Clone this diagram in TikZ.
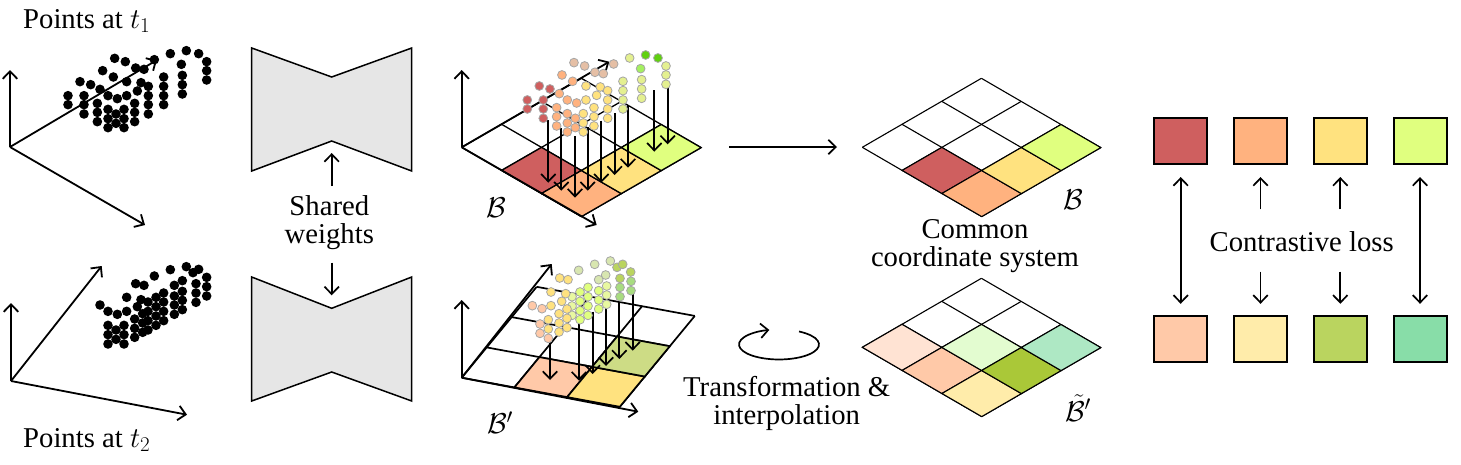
\RequirePackage{fix-cm}
\documentclass[tikz,border=0pt]{standalone}
\usepackage{fontspec}
\setmainfont{Liberation Serif}
\usetikzlibrary{arrows.meta}
\DeclareMathSizes{28.7}{28.7}{21}{15}
\definecolor{cRed}{HTML}{CF5F5F}
\definecolor{cOrange}{HTML}{FFB27F}
\definecolor{cYellow}{HTML}{FFE27F}
\definecolor{cLime}{HTML}{E0FF7F}
\definecolor{cPeach}{HTML}{FFC9A8}
\definecolor{cPale}{HTML}{FFECAA}
\definecolor{cOlive}{HTML}{BAD45F}
\definecolor{cOliveL}{HTML}{CDDC85}
\definecolor{cOliveD}{HTML}{AAC838}
\definecolor{cTeal}{HTML}{88DDA8}
\definecolor{cTealL}{HTML}{AEE8C4}
\definecolor{cPeachL}{HTML}{FFE3D3}
\definecolor{cMint}{HTML}{E3FCD0}
\definecolor{cTan}{HTML}{E5BFA5}
\definecolor{cGreen}{HTML}{60D010}
\definecolor{cGreenM}{HTML}{A4F060}
\definecolor{cYG}{HTML}{E4F090}
\definecolor{cSage}{HTML}{D8E6B0}
\definecolor{cOGreen}{HTML}{A8DC80}
\definecolor{cLimeL}{HTML}{E8F8A0}
\definecolor{cBox}{HTML}{E6E6E6}
\newcommand{\pts}[2]{\foreach \p in {#2} \filldraw[blob,fill=#1] \p circle[radius=4.4pt];}
\newcommand{\kpts}[1]{\foreach \p in {#1} \fill[black] \p circle[radius=4.8pt];}
\newcommand{\gcell}[3]{\filldraw[fill=#3] (#1,#2)--(#1+1,#2)--(#1+1,#2+1)--(#1,#2+1)--cycle;}
\newcommand{\glines}{\foreach \k in {0,1,2,3} {\draw (\k,0)--(\k,3); \draw (0,\k)--(3,\k);}}
\tikzset{
  >={Straight Barb[length=7.5pt,width=14.5pt]},
  arr/.style={->,line width=1.7pt},
  biarr/.style={<->,line width=1.7pt},
  axis/.style={->,line width=1.8pt},
  blob/.style={draw=black!35,line width=0.8pt},
  txt/.style={font=\fontsize{28.7}{28.8}\selectfont,inner sep=0pt,align=center,text=black},
  square/.style={draw=black,line width=2pt,minimum width=53pt,minimum height=46pt,inner sep=0pt,outer sep=0pt},
  bow/.style={draw=black,line width=1.5pt,fill=cBox,line join=miter},
  zoomed/.style={x=0.33333pt,y=-0.33333pt}
}
\begin{document}
\begin{tikzpicture}[x=1pt,y=-1pt]
\useasboundingbox (0,0) rectangle (1461,464);
% ---- left axes
\coordinate (o1) at (10,147);
\coordinate (o1u) at (10,70);
\coordinate (o1r) at (157,60);
\coordinate (o1d) at (145,225);
\draw[axis] (o1)--(o1u);
\draw[axis] (o1)--(o1r);
\draw[axis] (o1)--(o1d);
\coordinate (o2) at (11,381);
\coordinate (o2u) at (11,303);
\coordinate (o2r) at (101.7,266);
\coordinate (o2d) at (187,414.7);
\draw[axis] (o2)--(o2u);
\draw[axis] (o2)--(o2r);
\draw[axis] (o2)--(o2d);
\begin{scope}[zoomed]
\kpts{(344,175),(376,185),(407,204),(432,208),(463,179),(511,161),(559,152),(596,161),(620,185),(620,212),(620,240),(544,193),(547,226),(547,254),(547,282),(491,231),(491,259),(491,287),(491,314),(308,212),(340,231),(380,245),(423,248),(445,259),(412,273),(445,287),(445,314),(445,342),(240,245),(272,254),(300,268),(324,287),(352,296),(380,287),(404,310),(404,337),(404,365),(204,287),(204,314),(252,287),(252,314),(252,342),(292,310),(292,337),(292,365),(324,328),(324,356),(324,383),(348,342),(348,370),(372,328),(372,356),(372,383)}
\end{scope}
\begin{scope}[shift={(0,232)},zoomed]
\kpts{(559,104),(596,112),(579,122),(620,136),(620,164),(620,192),(588,155),(588,183),(588,211),(547,146),(523,160),(547,178),(547,205),(547,233),(523,192),(523,219),(523,247),(511,113),(463,132),(407,155),(432,160),(491,183),(491,210),(491,238),(491,266),(468,196),(468,224),(468,252),(468,280),(444,210),(444,238),(444,266),(444,294),(428,245),(428,273),(428,301),(380,196),(423,203),(412,224),(404,261),(404,289),(404,316),(300,219),(324,238),(352,247),(380,238),(324,280),(324,308),(324,336),(348,294),(348,322),(372,280),(372,308),(372,336)}
\end{scope}
\node[txt,anchor=base west] (t1) at (23,28.3) {Points at $t_1$};
\node[txt,anchor=base west] (t2) at (23,447) {Points at $t_2$};
% ---- encoders
\coordinate (bt) at (331.7,141);
\coordinate (bb) at (331.7,308.3);
\draw[bow] (251.7,48)--(331.7,77)--(411.7,48)--(411.7,171)--(bt)--(251.7,171)--cycle;
\draw[bow] (251.7,277)--(bb)--(411.7,277)--(411.7,401)--(331.7,372)--(251.7,401)--cycle;
\node[txt] (sw) at (329.3,222.6) {Shared\\weights};
\coordinate (swu) at (331.7,186);
\coordinate (swd) at (331.7,262.7);
\draw[arr,shorten >=12pt] (swu)--(bt);
\draw[arr,shorten >=13pt] (swd)--(bb);
% ---- grid B with points
\begin{scope}[shift={(461.7,147.3)},x={(39.9pt,23pt)},y={(39.9pt,-23.1pt)},line width=1.3pt]
\glines
\gcell{0}{1}{cRed}
\gcell{0}{2}{cOrange}
\gcell{1}{2}{cYellow}
\gcell{2}{2}{cLime}
\end{scope}
\coordinate (o3) at (461.7,147.3);
\coordinate (o3u) at (461.7,70);
\coordinate (o3r) at (609.3,61.7);
\coordinate (o3d) at (596.7,225);
\draw[axis] (o3)--(o3u);
\draw[axis] (o3)--(o3r);
\draw[axis] (o3)--(o3d);
\begin{scope}[shift={(450,30)},zoomed]
\foreach \xa/\ya/\yb in {295/270/458,334/295/482,375/318/503,413/292/482,454/272/458,494/250/435,534/225/413,613/180/365,653/158/343}
  {\coordinate (s) at (\xa,\ya); \coordinate (e) at (\xa,\yb); \draw[arr] (s)--(e);}
\end{scope}
\begin{scope}[shift={(459.3,4.3)},zoomed]
\pts{cTan}{(344,175),(376,185),(407,204),(432,208),(463,179)}
\pts{cYG}{(511,161),(620,185),(620,212),(620,240),(547,226),(547,254),(547,282),(491,231),(491,259),(491,287),(491,314)}
\pts{cGreen}{(559,152),(596,161)}
\pts{cGreenM}{(544,193)}
\pts{cRed}{(204,287),(204,314),(252,287),(252,314),(252,342),(240,245),(272,254)}
\pts{cOrange}{(308,212),(340,231),(300,268),(324,287),(352,296),(292,310),(292,337),(292,365),(324,328),(324,356),(324,383),(348,342),(348,370)}
\pts{cYellow}{(380,245),(423,248),(445,259),(412,273),(380,287),(445,287),(445,314),(445,342),(404,310),(404,337),(404,365),(372,328),(372,356),(372,383)}
\end{scope}
\node[txt] (lb1) at (496.7,207.7) {$\mathcal{B}$};
% ---- grid B' with points
\begin{scope}[shift={(461.7,377.7)},x={(25pt,30.3pt)},y={(52.7pt,-9.7pt)},line width=1.7pt]
\glines
\gcell{0}{1}{cPeach}
\gcell{0}{2}{cYellow}
\gcell{1}{2}{cOliveL}
\end{scope}
\coordinate (o4) at (461.7,377.7);
\coordinate (o4u) at (461.7,300);
\coordinate (o4r) at (551.7,264);
\coordinate (o4d) at (638.3,411.7);
\draw[axis] (o4)--(o4u);
\draw[axis] (o4)--(o4r);
\draw[axis] (o4)--(o4d);
\begin{scope}[shift={(450,240)},zoomed]
\foreach \xa/\ya/\yb in {300/310/420,387/240/422,428/215/402,468/190/378,508/170/357,548/148/332}
  {\coordinate (s) at (\xa,\ya); \coordinate (e) at (\xa,\yb); \draw[arr] (s)--(e);}
\end{scope}
\begin{scope}[shift={(520,250)},zoomed]
\pts{cSage}{(271,33),(224,43),(176,61),(257,75),(236,89)}
\pts{cOlive}{(291,52),(308,43),(332,66),(300,85)}
\pts{cOGreen}{(333,94),(333,122),(300,112),(300,140)}
\pts{cLimeL}{(260,108),(260,135),(260,163),(156,140),(156,168),(156,196)}
\pts{cLime}{(236,122),(236,150),(236,177),(204,112),(204,140),(204,168),(204,196),(180,126),(180,154),(180,182),(180,209)}
\pts{cYellow}{(119,84),(144,89),(93,126),(93,167),(137,131),(125,154),(141,177),(141,205),(141,233),(117,191),(117,219),(117,246),(85,209),(85,237)}
\pts{cPeach}{(37,167),(66,176),(60,222),(60,250),(85,265)}
\end{scope}
\node[txt] (lb2) at (500,422.7) {$\mathcal{B}'$};
% ---- middle arrows
\coordinate (ma) at (729,147);
\coordinate (mb) at (837,147);
\draw[arr] (ma)--(mb);
\coordinate (rot) at (779,318.5);
\draw[arr] ([shift={(-60:40pt and 15pt)}]rot) arc[start angle=-60,end angle=256,x radius=40,y radius=15];
\node[txt] (tr) at (786.7,403.5) {Transformation \&\\interpolation};
% ---- right grids
\begin{scope}[shift={(862.3,147.3)},x={(39.7pt,23pt)},y={(39.8pt,-23.1pt)},line width=1.1pt]
\glines
\gcell{0}{1}{cRed}
\gcell{0}{2}{cOrange}
\gcell{1}{2}{cYellow}
\gcell{2}{2}{cLime}
\end{scope}
\node[txt] (lb3) at (1073.3,199.3) {$\mathcal{B}$};
\node[txt] (cc) at (975,246) {Common\\coordinate system};
\begin{scope}[shift={(862.3,347.3)},x={(39.7pt,23pt)},y={(39.8pt,-23.1pt)},line width=1.1pt]
\glines
\gcell{0}{0}{cPeachL}
\gcell{0}{1}{cPeach}
\gcell{0}{2}{cPale}
\gcell{1}{1}{cMint}
\gcell{1}{2}{cOliveD}
\gcell{2}{2}{cTealL}
\end{scope}
\node[txt] (lb4) at (1078,408) {$\tilde{\mathcal{B}}'$};
% ---- squares
\node[square,fill=cRed] (a1) at (1180.7,141) {};
\node[square,fill=cOrange] (a2) at (1260.5,141) {};
\node[square,fill=cYellow] (a3) at (1340.3,141) {};
\node[square,fill=cLime] (a4) at (1420,141) {};
\node[square,fill=cPeach] (b1) at (1180.7,339.3) {};
\node[square,fill=cPale] (b2) at (1260.5,339.3) {};
\node[square,fill=cOlive] (b3) at (1340.3,339.3) {};
\node[square,fill=cTeal] (b4) at (1420,339.3) {};
\node[txt] (cl) at (1301.7,241.7) {Contrastive loss};
\draw[biarr,shorten <=13pt,shorten >=12.5pt] (a1.south)--(b1.north);
\draw[biarr,shorten <=13pt,shorten >=12.5pt] (a4.south)--(b4.north);
\coordinate (u2) at (1260.5,209.3);
\coordinate (u3) at (1340.3,209.3);
\coordinate (d2) at (1260.5,271.7);
\coordinate (d3) at (1340.3,271.7);
\draw[arr,shorten >=13pt] (u2)--(a2.south);
\draw[arr,shorten >=13pt] (u3)--(a3.south);
\draw[arr,shorten >=12.5pt] (d2)--(b2.north);
\draw[arr,shorten >=12.5pt] (d3)--(b3.north);
\end{tikzpicture}
\end{document}
